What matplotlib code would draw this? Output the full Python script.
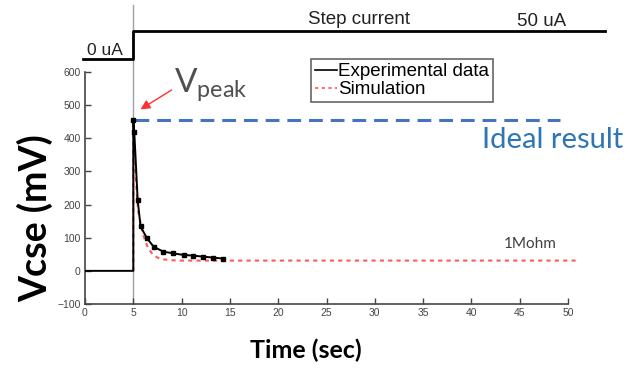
import matplotlib
matplotlib.use('Agg')
import matplotlib.pyplot as plt

plt.rcParams['font.family'] = ['Liberation Sans', 'DejaVu Sans']

# Experimental data (time in sec, Vcse in mV)
t_exp = [0, 5, 5, 5.1, 5.45, 5.75, 6.4, 7.1, 8.1, 9.1, 10.2, 11.2, 12.2, 13.3, 14.3]
v_exp = [0, 0, 455, 420, 215, 134, 99, 73, 58, 53, 48, 46, 43, 40, 37]

# Simulation
t_sim = [5, 5, 5.2, 5.5, 6.0, 6.5, 7.0, 7.5, 8.0, 9.0, 10.0, 50.8]
v_sim = [0, 455, 300, 180, 110, 70, 50, 40, 35, 32, 31, 31]

# Step current (uA)
t_cur = [-0.2, 5, 5, 53.8]
i_cur = [0, 0, 50, 50]

ideal_v = 455
ideal_t = [5.2, 49.2]

W, H = 628, 374
fig = plt.figure(figsize=(W / 100, H / 100), dpi=100)

# main axes: x 85..568 px, y 72..304 px
ax = fig.add_axes([85 / W, (H - 304) / H, 483 / W, 232 / H])
ax.set_xlim(0, 50)
ax.set_ylim(-100, 600)
for s in ['top', 'right']:
    ax.spines[s].set_visible(False)
for s in ['left', 'bottom']:
    ax.spines[s].set_color('#444444')
    ax.spines[s].set_linewidth(1.2)
ax.set_xticks(range(0, 51, 5))
ax.set_yticks(range(-100, 601, 100))
ax.tick_params(direction='in', length=4, width=1, colors='#444444', labelsize=7.5, pad=3)
ax.patch.set_alpha(0)

# gray time marker across both panels
ax.axvline(5, ymin=0, ymax=(304 - 5) / 232, color='#a0a0a0', lw=1, clip_on=False, zorder=1)

ax.plot(t_sim, v_sim, color='#ff5a5a', lw=1.5, dashes=(2, 2), clip_on=False, zorder=3,
        label='Simulation')
ax.plot(t_exp, v_exp, color='black', lw=1.4, marker='s', markersize=2.2, markevery=list(range(2, len(t_exp))),
        zorder=4, label='Experimental data')
ax.plot(ideal_t, [ideal_v, ideal_v], color='#4472c4', lw=2.2, dashes=(4.5, 2.6), zorder=2)

h, l = ax.get_legend_handles_labels()
leg = ax.legend(h[::-1], l[::-1], loc='upper left', bbox_to_anchor=(0.468, 1.055), fontsize=13.5,
                handlelength=1.2, handletextpad=0.05, borderpad=0.2, labelspacing=0.05,
                fancybox=False, framealpha=1, edgecolor='#666666', borderaxespad=0)
leg.get_frame().set_linewidth(1.2)
for hd in leg.get_lines():
    hd.set_marker('')
    hd.set_linewidth(1.2)

ax.annotate('', xy=(5.5, 483), xytext=(9.2, 550),
            arrowprops=dict(arrowstyle='-|>', color='#ff3030', lw=1, mutation_scale=14))
ax.text(9.2, 563, r'$\mathregular{V_{peak}}$', fontsize=24, color='#505050',
        family='Lato', va='center', ha='left')
ax.text(55.7, 396, 'Ideal result', fontsize=21, color='#2e75b6', family='Lato',
        ha='right', va='center')
ax.text(48.8, 82, '1Mohm', fontsize=11, color='#404040', family='Lato', ha='right', va='center')

# axis titles placed in figure pixels
fig.text(306 / W, 1 - 350 / H, 'Time (sec)', fontsize=18, family='Lato', fontweight='bold',
         ha='center', va='center')
fig.text(35 / W, 1 - 218 / H, 'Vcse (mV)', fontsize=27, family='Lato', fontweight='bold',
         rotation=90, ha='center', va='center')

# step current panel: 0 uA at y=59 px, 50 uA at y=31 px
top = fig.add_axes([85 / W, (H - 66) / H, 483 / W, 42 / H])
top.set_xlim(0, 50)
top.set_ylim(-12.5, 62.5)
top.axis('off')
top.plot(t_cur, i_cur, color='black', lw=2, clip_on=False)
top.text(0.2, 15, '0 uA', fontsize=12.5, color='#222222', ha='left', va='center')
top.text(28.4, 70, 'Step current', fontsize=13.5, color='#222222', ha='center', va='center')
top.text(47.3, 67, '50 uA', fontsize=13.5, color='#222222', ha='center', va='center')

fig.savefig('out.png', dpi=100)
